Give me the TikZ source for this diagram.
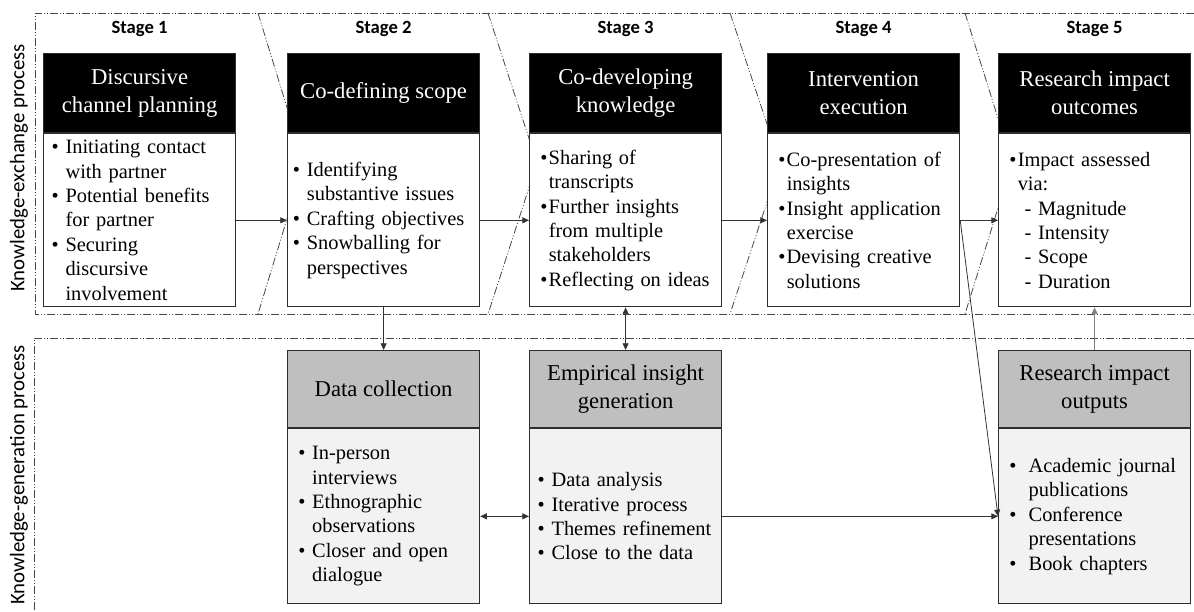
\documentclass[tikz,border=0pt]{standalone}
\usepackage{fontspec}
\setmainfont{Liberation Serif}
\newfontfamily\stagefont{Carlito}
\usepackage{tikz}
\usetikzlibrary{arrows.meta,positioning}
\definecolor{boxline}{RGB}{45,45,45}
\definecolor{hdgray}{RGB}{191,191,191}
\definecolor{bdgray}{RGB}{242,242,242}
\definecolor{framegray}{RGB}{70,70,70}

% bullets: normal, tight and wide, each with its hanging indent
\newcommand{\bul}{\textbullet\ }
\newcommand{\bulgap}{\hphantom{\textbullet\ }}
\newcommand{\tbul}{\textbullet\hspace{1pt}}
\newcommand{\tgap}{\hphantom{\textbullet\hspace{1pt}}}
\newcommand{\wbul}{\textbullet\hspace{0.6em}}
\newcommand{\wgap}{\hphantom{\textbullet\hspace{0.6em}}}

\begin{document}
\begin{tikzpicture}[
  x=0.75pt, y=-0.75pt, >={Triangle[length=5pt,width=4.5pt]},
  hdr/.style={rectangle, draw=boxline, line width=0.9pt, fill=black, text=white,
              align=center, anchor=north west, inner sep=0pt,
              minimum width=144pt, minimum height=59.25pt,
              font=\fontsize{17}{21}\selectfont},
  ghdr/.style={hdr, fill=hdgray, text=black, minimum height=57.75pt},
  body/.style={rectangle, draw=boxline, line width=0.9pt, fill=white, align=left,
               minimum width=144pt, minimum height=129.75pt, inner ysep=0pt,
               inner xsep=6pt, text width=132pt,
               font=\fontsize{15.3}{18.3}\selectfont},
  gbody/.style={body, fill=bdgray, minimum height=131.25pt,
                inner xsep=8pt, text width=128pt},
  stg/.style={font=\stagefont\bfseries\fontsize{14}{16}\selectfont, inner sep=0pt},
  side/.style={font=\stagefont\fontsize{15.6}{18}\selectfont, rotate=90, inner sep=0pt},
  frame/.style={line width=0.6pt, draw=framegray,
                dash pattern=on 6pt off 1.5pt on 0.75pt off 1.5pt on 0.75pt off 1.5pt},
  link/.style={->, line width=0.6pt, draw=black!80},
  twoway/.style={<->, line width=0.6pt, draw=black!80}]

  \useasboundingbox (0,0) rectangle (1194,611);

  % ---------- process frames and stage chevrons ----------
  \draw[frame] (1194,13) -- (35,13) -- (35,314) -- (1194,314);
  \draw[frame] (1194,338) -- (34,338) -- (34,611);
  \draw[frame] (258,13) -- (304,163) -- (258,314);
  \draw[frame] (488,13) -- (537,163) -- (488,314);
  \draw[frame] (730,13) -- (780,163) -- (730,314);
  \draw[frame] (965,13) -- (1012,163) -- (965,314);

  \node[side] (kx) at (19,168) {Knowledge-exchange process};
  \node[side] (kg) at (19,475) {Knowledge-generation process};

  % ---------- knowledge exchange ----------
  \node[hdr] (hd1) at (43,53) {Discursive\\channel planning};
  \node[body, below=0pt of hd1] (bd1) {\bul Initiating contact\\ \bulgap with partner\\
    \bul Potential benefits\\ \bulgap for partner\\ \bul Securing\\ \bulgap discursive\\
    \bulgap involvement};

  \node[hdr] (hd2) at (287,53) {Co-defining scope};
  \node[body, below=0pt of hd2, inner xsep=4pt, text width=136pt] (bd2) {\bul Identifying\\
    \bulgap substantive issues\\ \bul Crafting objectives\\ \bul Snowballing for\\
    \bulgap perspectives};

  \node[hdr] (hd3) at (529,53) {Co-developing\\knowledge};
  \node[body, below=0pt of hd3, inner xsep=8pt, text width=128pt] (bd3) {\tbul Sharing of\\
    \tgap transcripts\\ \tbul Further insights\\ \tgap from multiple\\ \tgap stakeholders\\
    \tbul Reflecting on ideas};

  \node[hdr] (hd4) at (767,53) {Intervention\\execution};
  \node[body, below=0pt of hd4, inner xsep=8pt, text width=128pt] (bd4) {\tbul Co-presentation of\\
    \tgap insights\\ \tbul Insight application\\ \tgap exercise\\ \tbul Devising creative\\
    \tgap solutions};

  \node[hdr] (hd5) at (998,53) {Research impact\\outcomes};
  \node[body, below=0pt of hd5, inner xsep=8pt, text width=128pt] (bd5) {\tbul Impact assessed\\
    \tgap via:\\ \tgap\ - Magnitude\\ \tgap\ - Intensity\\ \tgap\ - Scope\\ \tgap\ - Duration};

  \node[stg, above=12pt of hd1] (st1) {Stage 1};
  \node[stg, above=12pt of hd2] (st2) {Stage 2};
  \node[stg, above=12pt of hd3] (st3) {Stage 3};
  \node[stg, above=12pt of hd4] (st4) {Stage 4};
  \node[stg, above=12pt of hd5] (st5) {Stage 5};

  % ---------- knowledge generation ----------
  \node[ghdr] (gh1) at (287,350) {Data collection};
  \node[gbody, below=0pt of gh1] (gb1) {\bul In-person\\ \bulgap interviews\\
    \bul Ethnographic\\ \bulgap observations\\ \bul Closer and open\\ \bulgap dialogue};

  \node[ghdr] (gh2) at (529,350) {Empirical insight\\generation};
  \node[gbody, below=0pt of gh2, inner xsep=6pt, text width=132pt] (gb2) {\bul Data analysis\\
    \bul Iterative process\\ \bul Themes refinement\\ \bul Close to the data};

  \node[ghdr] (gh3) at (998,350) {Research impact\\outputs};
  \node[gbody, below=0pt of gh3] (gb3) {\wbul Academic journal\\ \wgap publications\\
    \wbul Conference\\ \wgap presentations\\ \wbul Book chapters};

  % ---------- connectors ----------
  \draw[link] (bd1.east) -- (bd2.west);
  \draw[link] (bd2.east) -- (bd3.west);
  \draw[link] (bd3.east) -- (bd4.west);
  \draw[link] (bd4.east) -- (bd5.west);
  \draw[link] (bd2.south) -- (gh1.north);
  \draw[twoway] (bd3.south) -- (gh2.north);
  \draw[twoway] (gb1.east) -- (gb2.west);
  \draw[link] (gb2.east) -- (gb3.west);
  \draw[link] (bd4.east) -- (gb3.west);
  \draw[link, draw=black!50] (gh3.north) -- (bd5.south);

\end{tikzpicture}
\end{document}
